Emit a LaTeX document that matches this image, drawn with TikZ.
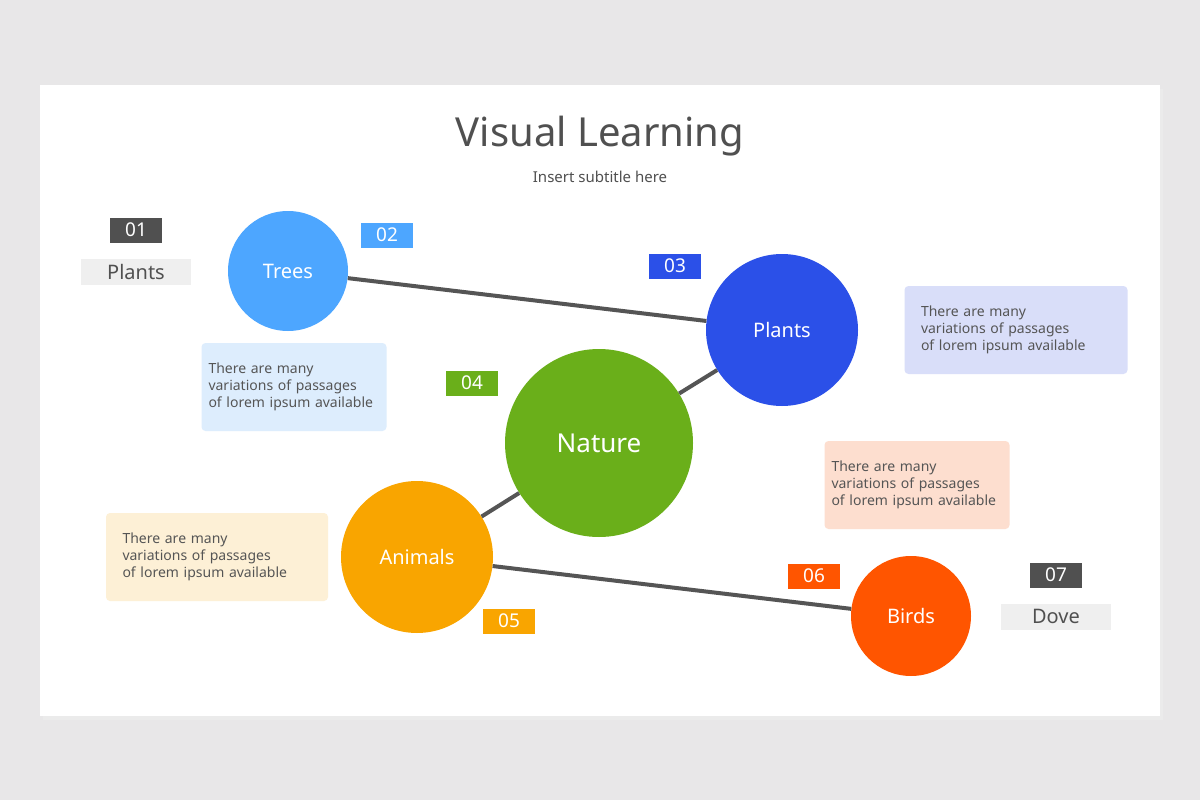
\documentclass[tikz,border=0pt]{standalone}
\usepackage{fontspec}
\setmainfont{Noto Sans}
\usetikzlibrary{positioning}
\definecolor{bgGray}{HTML}{E8E7E8}
\definecolor{darkTag}{HTML}{505050}
\definecolor{lightTag}{HTML}{EFEFEF}
\definecolor{linkGray}{HTML}{555555}
\definecolor{treeBlue}{HTML}{4DA6FF}
\definecolor{plantBlue}{HTML}{2B50E8}
\definecolor{natureGreen}{HTML}{6AAF1A}
\definecolor{animalOrange}{HTML}{F9A500}
\definecolor{birdRed}{HTML}{FF5500}
\definecolor{boxBlue}{HTML}{DDEDFD}
\definecolor{boxLav}{HTML}{D9DEF9}
\definecolor{boxPeach}{HTML}{FDDECF}
\definecolor{boxCream}{HTML}{FDF0D6}
\definecolor{bodyText}{HTML}{555555}
\tikzset{
  ball/.style={circle, draw=none, text=white, font=\fontsize{20}{24}\selectfont\bfseries, inner sep=0pt},
  tag/.style={draw=none, text=white, minimum width=52pt, minimum height=25pt, inner sep=0pt, font=\fontsize{19}{22}\selectfont\bfseries},
  label box/.style={fill=lightTag, text=darkTag, minimum width=110pt, minimum height=26pt, inner sep=0pt, font=\fontsize{20}{24}\selectfont\bfseries},
  note/.style={rounded corners=4pt, minimum height=88pt, inner sep=0pt, text=bodyText, font=\fontsize{14}{17}\selectfont, align=left},
  link/.style={draw=linkGray, line width=4pt}
}
\begin{document}
\begin{tikzpicture}[x=1pt, y=-1pt]

  % background and slide
  \fill[bgGray] (0,0) rectangle (1200,800);
  \fill[black!8] (43,89) rectangle (1163,720);
  \fill[white] (40,85) rectangle (1160,716);
  \useasboundingbox (0,0) rectangle (1200,800);

  % title
  \node[text=darkTag, font=\fontsize{40}{46}\selectfont] (title) at (600,136) {Visual Learning};
  \node[text=darkTag, font=\fontsize{15}{18}\selectfont] (subtitle) at (600,177) {Insert subtitle here};

  % circles
  \node[ball, fill=treeBlue, minimum size=120pt] (trees) at (288,271) {Trees};
  \node[ball, fill=plantBlue, minimum size=152pt] (plants) at (782,330) {Plants};
  \node[ball, fill=natureGreen, minimum size=188pt, font=\fontsize{26}{30}\selectfont\bfseries] (nature) at (599,443) {Nature};
  \node[ball, fill=animalOrange, minimum size=152pt] (animals) at (417,557) {Animals};
  \node[ball, fill=birdRed, minimum size=120pt] (birds) at (911,616) {Birds};

  % links
  \begin{scope}[on background layer/.style={}]
    \draw[link] (trees) -- (plants);
    \draw[link] (plants) -- (nature);
    \draw[link] (nature) -- (animals);
    \draw[link] (animals) -- (birds);
  \end{scope}

  % number tags
  \node[tag, fill=darkTag] (tag01) at (136,230) {01};
  \node[label box, below=16pt of tag01] (plantsLbl) {Plants};
  \node[tag, fill=treeBlue] (tag02) at (387,235) {02};
  \node[tag, fill=plantBlue] (tag03) at (675,266) {03};
  \node[tag, fill=natureGreen] (tag04) at (472,383) {04};
  \node[tag, fill=animalOrange] (tag05) at (509,621) {05};
  \node[tag, fill=birdRed] (tag06) at (814,576) {06};
  \node[tag, fill=darkTag] (tag07) at (1056,575) {07};
  \node[label box, below=16pt of tag07] (doveLbl) {Dove};

  % notes
  \node[note, fill=boxBlue, minimum width=185pt, text width=171pt, xshift=7pt] (noteTrees) at (287,387) {There are many\\variations of passages\\of lorem ipsum available};
  \node[note, fill=boxLav, minimum width=223pt, text width=190pt, xshift=16pt] (notePlants) at (1000,330) {There are many\\variations of passages\\of lorem ipsum available};
  \node[note, fill=boxPeach, minimum width=185pt, text width=171pt, xshift=7pt] (noteBirds) at (910,485) {There are many\\variations of passages\\of lorem ipsum available};
  \node[note, fill=boxCream, minimum width=222pt, text width=189pt, xshift=16pt] (noteAnimals) at (201,557) {There are many\\variations of passages\\of lorem ipsum available};

\end{tikzpicture}
\end{document}
